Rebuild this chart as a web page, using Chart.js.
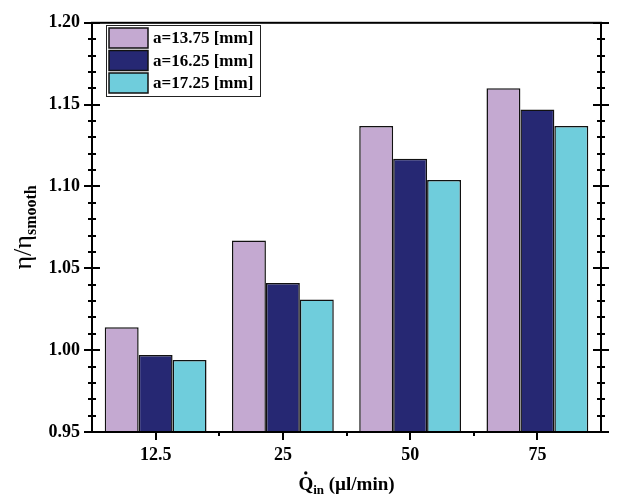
<!DOCTYPE html>
<html>
<head>
<meta charset="utf-8">
<script src="https://cdn.jsdelivr.net/npm/chart.js@4.4.0/dist/chart.umd.min.js"></script>
<style>
  html, body { margin: 0; padding: 0; background: #fff; }
  #wrap { width: 620px; height: 497px; position: relative; }
</style>
</head>
<body>
<div id="wrap"><canvas id="chart" width="620" height="497"></canvas></div>
<script>
const flowRates = ['12.5', '25', '50', '75'];
const seriesLabels = ['a=13.75 [mm]', 'a=16.25 [mm]', 'a=17.25 [mm]'];
const ratioA1375 = [1.014, 1.067, 1.137, 1.160];
const ratioA1625 = [0.997, 1.041, 1.117, 1.147];
const ratioA1725 = [0.994, 1.031, 1.104, 1.137];
const barColors = ['#c4a9d1', '#262873', '#6fcddc'];

const serif = '"Liberation Serif", "Times New Roman", serif';

// frame, tick marks, axis titles and legend drawn on top
const framePlugin = {
  id: 'frame',
  afterDraw(chart) {
    const ctx = chart.ctx;
    const a = chart.chartArea;
    const x = chart.scales.x;
    const y = chart.scales.y;
    ctx.save();
    ctx.strokeStyle = '#000';
    ctx.lineWidth = 2;
    ctx.strokeRect(a.left, a.top, a.right - a.left, a.bottom - a.top);

    // y ticks (both sides, crossing the axis)
    for (let v = 0.95; v <= 1.2001; v += 0.01) {
      const py = Math.round(y.getPixelForValue(v));
      const major = Math.abs(Math.round(v * 100) % 5) === 0;
      const len = major ? 8 : 4;
      ctx.beginPath();
      ctx.moveTo(a.left - len, py); ctx.lineTo(a.left + len, py);
      ctx.moveTo(a.right - len, py); ctx.lineTo(a.right + len, py);
      ctx.stroke();
    }
    // x ticks (outward only)
    flowRates.forEach((_, i) => {
      const px = Math.round(x.getPixelForValue(i));
      ctx.beginPath();
      ctx.moveTo(px, a.bottom); ctx.lineTo(px, a.bottom + 8);
      ctx.stroke();
      if (i > 0) {
        const mx = Math.round((x.getPixelForValue(i) + x.getPixelForValue(i - 1)) / 2);
        ctx.beginPath();
        ctx.moveTo(mx, a.bottom); ctx.lineTo(mx, a.bottom + 4);
        ctx.stroke();
      }
    });

    // x title: Q-dot with subscript "in"
    ctx.fillStyle = '#000';
    ctx.textBaseline = 'alphabetic';
    const big = 'bold 19px ' + serif;
    const sub = 'bold 13px ' + serif;
    ctx.font = big;
    const wQ = ctx.measureText('Q').width;
    const rest = ' (\u00b5l/min)';
    const wRest = ctx.measureText(rest).width;
    ctx.font = sub;
    const wIn = ctx.measureText('in').width;
    let tx = (a.left + a.right) / 2 - (wQ + wIn + wRest) / 2;
    const ty = 490;
    ctx.font = big;
    ctx.fillText('Q', tx, ty);
    ctx.beginPath();
    ctx.arc(tx + wQ / 2, ty - 17, 1.7, 0, Math.PI * 2);
    ctx.fill();
    ctx.font = sub;
    ctx.fillText('in', tx + wQ, ty + 4);
    ctx.font = big;
    ctx.fillText(rest, tx + wQ + wIn, ty);

    // y title: eta / eta_smooth, rotated
    ctx.save();
    ctx.translate(31, (a.top + a.bottom) / 2);
    ctx.rotate(-Math.PI / 2);
    const eta = '26px ' + serif;
    const subY = 'bold 16px ' + serif;
    ctx.font = eta;
    const wEta = ctx.measureText('\u03b7/\u03b7').width;
    ctx.font = subY;
    const wSm = ctx.measureText('smooth').width;
    let sx = -(wEta + wSm) / 2;
    ctx.font = eta;
    ctx.fillText('\u03b7/\u03b7', sx, 0);
    ctx.font = subY;
    ctx.fillText('smooth', sx + wEta, 5);
    ctx.restore();

    // legend box
    const lx = 106, ly = 25, lw = 154, lh = 71;
    ctx.lineWidth = 1;
    ctx.strokeStyle = '#222';
    ctx.fillStyle = '#fff';
    ctx.fillRect(lx, ly, lw, lh);
    ctx.strokeRect(lx + 0.5, ly + 0.5, lw, lh);
    ctx.font = 'bold 17px ' + serif;
    ctx.textBaseline = 'middle';
    chart.data.datasets.forEach((ds, i) => {
      const ry = ly + 3 + i * 22.5;
      ctx.fillStyle = ds.backgroundColor;
      ctx.fillRect(lx + 3, ry, 39, 20);
      ctx.lineWidth = 1.5;
      ctx.strokeStyle = '#111';
      ctx.strokeRect(lx + 3, ry, 39, 20);
      ctx.fillStyle = '#000';
      ctx.fillText(ds.label, lx + 47, ry + 11);
    });
    ctx.restore();
  }
};

const datasets = [ratioA1375, ratioA1625, ratioA1725].map((vals, i) => ({
  label: seriesLabels[i],
  data: vals,
  backgroundColor: barColors[i],
  borderColor: '#111',
  borderWidth: 1.5,
  borderSkipped: 'bottom',
  categoryPercentage: 0.8,
  barPercentage: 1.0
}));

new Chart(document.getElementById('chart'), {
  type: 'bar',
  data: { labels: flowRates, datasets },
  options: {
    responsive: false,
    animation: false,
    layout: { padding: { top: 17, right: 19, left: 0, bottom: 0 } },
    plugins: { legend: { display: false }, tooltip: { enabled: false } },
    scales: {
      x: {
        grid: { display: false, drawTicks: false },
        border: { display: false },
        ticks: { color: '#000', font: { family: serif, size: 18, weight: 'bold' }, padding: 13 },
        afterFit(s) { s.height = 65; }
      },
      y: {
        min: 0.95,
        max: 1.2,
        grid: { display: false, drawTicks: false },
        border: { display: false },
        ticks: {
          stepSize: 0.05,
          color: '#000',
          font: { family: serif, size: 18, weight: 'bold' },
          padding: 12,
          callback: v => v.toFixed(2)
        },
        afterFit(s) { s.width = 92; }
      }
    }
  },
  plugins: [framePlugin]
});
</script>
</body>
</html>
